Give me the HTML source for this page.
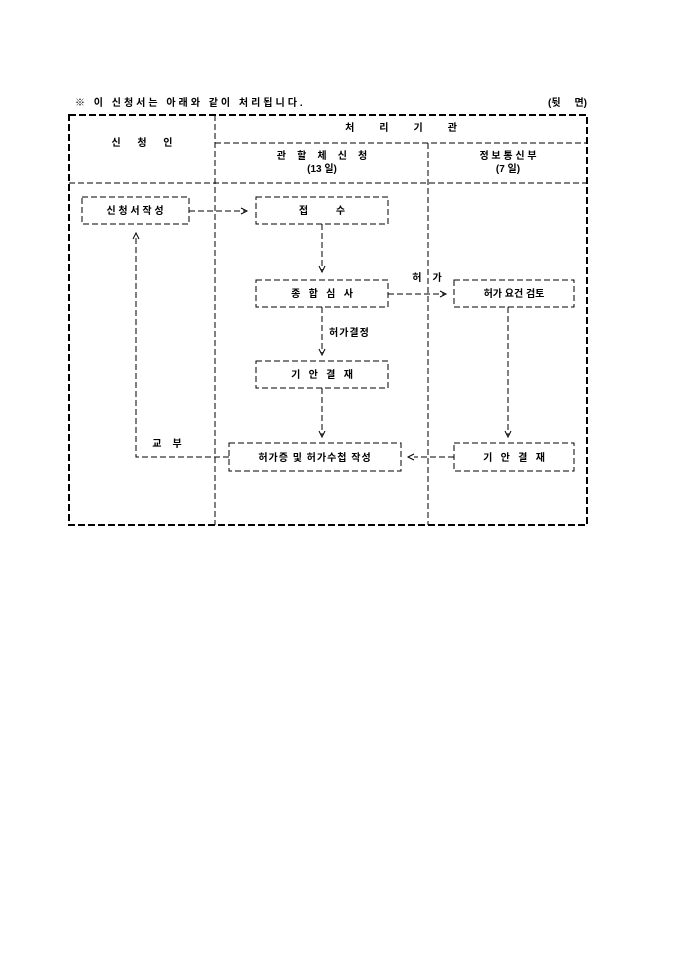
<!DOCTYPE html>
<html><head><meta charset="utf-8"><style>
html,body{margin:0;padding:0;background:#fff;}
svg text{font-family:"Liberation Sans","Noto Sans CJK KR","NanumGothic",sans-serif;font-size:10px;font-weight:bold;fill:#000;}
</style></head><body>
<svg width="680" height="962" viewBox="0 0 680 962" xmlns="http://www.w3.org/2000/svg">
<g fill="none" stroke="#000">
<rect x="69" y="115" width="518" height="410" stroke-width="2" stroke-dasharray="7,3"/>
<g stroke-width="1" stroke-dasharray="6,3">
<line x1="215" y1="115" x2="215" y2="525"/>
<line x1="428" y1="143" x2="428" y2="525"/>
<line x1="215" y1="143" x2="587" y2="143"/>
<line x1="69" y1="183" x2="587" y2="183"/>
<rect x="82" y="197" width="107" height="27"/>
<rect x="256" y="197" width="132" height="27"/>
<rect x="256" y="280" width="132" height="27"/>
<rect x="454" y="280" width="120" height="27"/>
<rect x="256" y="361" width="132" height="27"/>
<rect x="229" y="443" width="172" height="28"/>
<rect x="454" y="443" width="120" height="28"/>
<line x1="189" y1="211" x2="245" y2="211"/>
<line x1="388" y1="294" x2="444" y2="294"/>
<line x1="322" y1="224" x2="322" y2="270"/>
<line x1="322" y1="307" x2="322" y2="353"/>
<line x1="322" y1="388" x2="322" y2="435"/>
<line x1="508" y1="307" x2="508" y2="435"/>
<line x1="454" y1="457" x2="414" y2="457"/>
<polyline points="229,457 136,457 136,238"/>
</g>
<g stroke-width="1">
<polyline points="241,208 247,211 241,214"/>
<polyline points="440,291 446,294 440,297"/>
<polyline points="319,266 322,272 325,266"/>
<polyline points="319,349 322,355 325,349"/>
<polyline points="319,431 322,437 325,431"/>
<polyline points="505,431 508,437 511,431"/>
<polyline points="414,454 408,457 414,460"/>
<polyline points="133,239 136,233 139,239"/>
</g>
</g>
<text x="75" y="106" letter-spacing="3">※ 이 신청서는 아래와 같이 처리됩니다.</text>
<text x="587" y="106" text-anchor="end" xml:space="preserve">(뒷     면)</text>
<text x="142" y="146" text-anchor="middle" xml:space="preserve">신      청      인</text>
<text x="401" y="131" text-anchor="middle" xml:space="preserve">처         리         기         관</text>
<text x="322" y="159" text-anchor="middle" xml:space="preserve">관    할    체    신    청</text>
<text x="322" y="172" text-anchor="middle">(13 일)</text>
<text x="508" y="159" text-anchor="middle" xml:space="preserve">정 보 통 신 부</text>
<text x="508" y="172" text-anchor="middle">(7 일)</text>
<text x="135" y="214" text-anchor="middle" xml:space="preserve">신 청 서 작 성</text>
<text x="322" y="214" text-anchor="middle" xml:space="preserve">접          수</text>
<text x="322" y="297" text-anchor="middle" xml:space="preserve">종   합   심   사</text>
<text x="514" y="297" text-anchor="middle" xml:space="preserve">허가 요건 검토</text>
<text x="322" y="378" text-anchor="middle" xml:space="preserve">기   안   결   재</text>
<text x="315" y="461" text-anchor="middle" xml:space="preserve" letter-spacing="1">허가증 및 허가수첩 작성</text>
<text x="514" y="461" text-anchor="middle" xml:space="preserve">기   안   결   재</text>
<text x="427" y="281" text-anchor="middle" xml:space="preserve">허    가</text>
<text x="329" y="336" letter-spacing="1">허가결정</text>
<text x="167" y="447" text-anchor="middle" xml:space="preserve">교    부</text>
</svg>
</body></html>
